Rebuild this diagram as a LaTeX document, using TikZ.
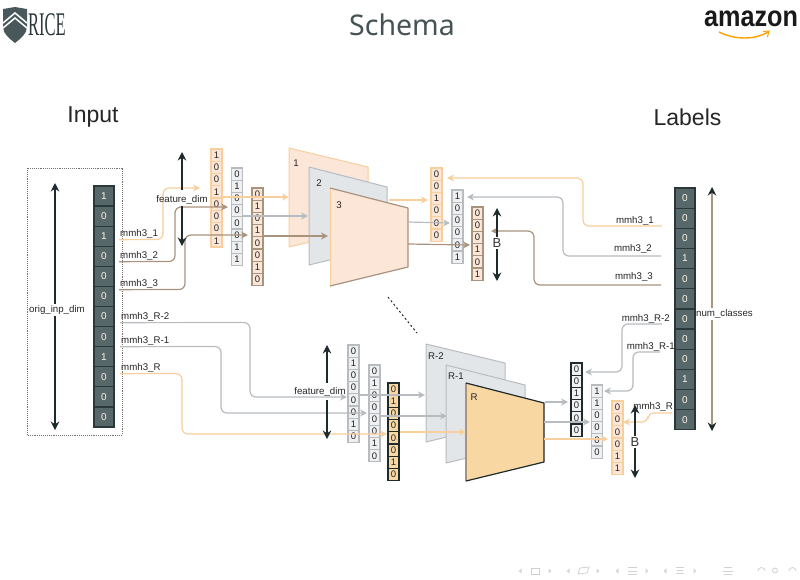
\documentclass[tikz,border=0pt]{standalone}
\usepackage{fontspec}
\usepackage{graphicx}
\setmainfont{Liberation Sans}
\newfontfamily\titlefont{Noto Sans}
\newfontfamily\serifont{Liberation Serif}
\usetikzlibrary{arrows.meta}
\definecolor{orgL}{HTML}{F8CF9C}
\definecolor{orgF}{HTML}{FBE6D8}
\definecolor{orgS}{HTML}{F8D7A2}
\definecolor{gryL}{HTML}{B8BCC0}
\definecolor{gryF}{HTML}{E3E6E8}
\definecolor{tanL}{HTML}{A8937E}
\definecolor{slate}{HTML}{56686A}
\definecolor{slateD}{HTML}{2A3839}
\definecolor{ink}{HTML}{1E2A2C}
\tikzset{
  x=1pt,y=-1pt,
  bitcell/.style={draw,line width=1.3pt,inner sep=0pt,font=\fontsize{9.5}{10}\selectfont,text=black!85},
  darkbit/.style={bitcell,fill=slate,draw=slateD,line width=1.3pt,text=orange!10,font=\fontsize{10}{11}\selectfont},
  orgbit/.style={bitcell,fill=orgF,draw=orgL},
  grybit/.style={bitcell,fill=gryF!60,draw=gryL},
  tanbit/.style={bitcell,fill=orgF,draw=tanL},
  inkbit/.style={bitcell,fill=orgS,draw=ink},
  palebit/.style={bitcell,fill=gryF!50,draw=ink},
  lab/.style={inner sep=1pt,font=\fontsize{9.7}{10}\selectfont,text=black!85},
  big/.style={inner sep=0pt,font=\fontsize{23}{24}\selectfont,text=black!85},
  planeO/.style={fill=orgF,draw=orgL,line width=1pt,line join=round},
  planeG/.style={fill=gryF,draw=gryL,line width=1pt,line join=round},
  conn/.style={line width=1.2pt,rounded corners=6pt,-{Stealth[open,length=7pt,width=7pt]}},
  connO/.style={conn,draw=orgL},
  connG/.style={conn,draw=gryL},
  connT/.style={conn,draw=tanL},
  dimarrow/.style={line width=1.1pt,draw=ink,-{Stealth[length=8.5pt,width=8.5pt]}},
  nav/.style={fill=black!16,draw=none},
  navl/.style={draw=black!18,line width=.8pt,fill=none},
}
\newcommand{\bitcol}[7]{%
  \foreach \d [count=\i] in {#7}{%
    \node[#6,minimum width=#4pt,minimum height=#5pt] (#1-\i) at (#2+#4/2,{#3+(\i-.5)*#5}) {\d};
  }%
}
\begin{document}
\begin{tikzpicture}
\useasboundingbox (0,0) rectangle (800,579);
\fill[white] (0,0) rectangle (800,579);

% header
\fill[slate!85!black] (3,9) -- (15,7) -- (27,9) -- (27,27) .. controls (27,34) and (20,39) .. (15,43) .. controls (10,39) and (3,34) .. (3,27) -- cycle;
\draw[white,line width=1.5pt] (3,28) -- (15,18) -- (27,28);
\draw[white,line width=1.5pt] (3,23) -- (15,13) -- (27,23);
\node[inner sep=0pt,anchor=west,text=slateD] (rice) at (28,25) {\serifont\fontsize{33}{34}\selectfont\scalebox{.5}[1]{RICE}};
\node[inner sep=0pt,text=slate!80!black] (schema) at (402,25) {\titlefont\fontsize{28.5}{30}\selectfont Schema};
\node[inner sep=0pt,text=black!90] (amazon) at (751,19) {\fontsize{29}{30}\selectfont\bfseries\scalebox{.87}[1]{amazon}};
\draw[orange!75!yellow,line width=1.4pt] (719,32) .. controls (735,40) and (755,40) .. (768,32);
\draw[orange!75!yellow,line width=1pt] (763,31.5) -- (769,31) -- (767.5,37);

% headings
\node[big] (inputT) at (93,117) {Input};
\node[big] (labelsT) at (687.5,117) {Labels};

% dotted box
\draw[black!55,densely dotted,line width=.9pt] (27,168) rectangle (122,435);

% big columns
\bitcol{in}{94}{186}{20}{20.08}{darkbit}{1,0,1,0,0,0,0,0,1,0,0,0}
\bitcol{out}{675}{188}{20}{20.15}{darkbit}{0,0,0,1,0,0,0,0,0,1,0,0}

% planes, top
\draw[planeO] (289,148) -- (368,167) -- (368,228) -- (289,247) -- cycle;
\draw[planeG] (309,167) -- (387,187) -- (387,246) -- (309,265) -- cycle;
\fill[orgF] (330,188) -- (408,208) -- (408,267) -- (330,286) -- cycle;
\draw[orgL,line width=1pt] (330,188) -- (330,286);
\draw[tanL,line width=1.2pt,line join=round] (330,286) -- (408,267) -- (408,208) -- (330,188);
\node[lab] (p1) at (296,163) {1};
\node[lab] (p2) at (319,183) {2};
\node[lab] (p3) at (339,205) {3};

% planes, bottom
\draw[planeG] (426,344) -- (505,363) -- (505,423) -- (426,442) -- cycle;
\draw[planeG] (446,365) -- (525,385) -- (525,444) -- (446,463) -- cycle;
\fill[orgS] (466,383) -- (544,403) -- (544,462) -- (466,481) -- cycle;
\draw[tanL,line width=1.2pt] (466,383) -- (466,481);
\draw[ink,line width=1.2pt,line join=round] (466,481) -- (544,462) -- (544,403) -- (466,383);
\node[lab] (q1) at (436,356) {R-2};
\node[lab] (q2) at (456,376) {R-1};
\node[lab] (q3) at (474,397) {R};

% bit columns
\bitcol{a}{211}{149}{11}{12.25}{orgbit}{1,0,0,1,0,0,0,1}
\bitcol{b}{231.5}{168}{11}{12.2}{grybit}{0,1,0,0,0,0,1,1}
\bitcol{c}{252}{188}{11}{12.2}{tanbit}{0,1,0,1,0,0,1,0}
\bitcol{d}{431}{168}{11}{12.2}{orgbit}{0,0,1,0,0,0}
\bitcol{e}{452}{190}{11}{12.2}{grybit}{1,0,0,0,0,1}
\bitcol{f}{472}{207}{11}{12.2}{tanbit}{0,0,0,1,0,1}
\bitcol{g}{348}{345}{11}{12.2}{grybit}{0,1,0,0,0,0,1,0}
\bitcol{h}{369}{365}{11}{12.1}{grybit}{0,1,0,0,0,0,1,0}
\bitcol{k}{388}{383}{11}{12.2}{inkbit}{0,1,0,0,0,0,1,0}
\bitcol{m}{571}{363}{11}{12.2}{palebit}{0,0,1,0,0,0}
\bitcol{n}{591.5}{385}{11}{12.2}{grybit}{1,1,0,0,0,0}
\bitcol{r}{612}{401}{11}{12.3}{orgbit}{0,0,0,0,1,1}

% labels
\node[lab,anchor=west] (l1) at (119,234) {mmh3\_1};
\node[lab,anchor=west] (l2) at (119,256) {mmh3\_2};
\node[lab,anchor=west] (l3) at (119,284) {mmh3\_3};
\node[lab,anchor=west] (l4) at (120,317) {mmh3\_R-2};
\node[lab,anchor=west] (l5) at (120,341) {mmh3\_R-1};
\node[lab,anchor=west] (l6) at (120,368) {mmh3\_R};
\node[lab,anchor=east] (r1) at (655,221) {mmh3\_1};
\node[lab,anchor=east] (r2) at (653,249) {mmh3\_2};
\node[lab,anchor=east] (r3) at (654,277) {mmh3\_3};
\node[lab,anchor=east] (r4) at (671,319) {mmh3\_R-2};
\node[lab,anchor=east] (r5) at (676,347) {mmh3\_R-1};
\node[lab,anchor=east] (r6) at (674,407) {mmh3\_R};

% named connector ends
\coordinate (t1) at (200,188);
\coordinate (t2) at (228,207);
\coordinate (t3) at (248,235);
\coordinate (t4) at (347,397);
\coordinate (t5) at (367,413);
\coordinate (t6) at (387,434);
\coordinate (pin1) at (289,197);
\coordinate (pin2) at (308,216);
\coordinate (pin3) at (328,236);
\coordinate (qin1) at (425,395);
\coordinate (qin2) at (447,416);
\coordinate (qin3) at (466,432);
\coordinate (o1) at (389,200);
\coordinate (o2) at (408,222);
\coordinate (o3) at (408,244);
\coordinate (u1) at (545,402);
\coordinate (u2) at (544,422);
\coordinate (u3) at (544,439);
\coordinate (v1) at (428,200);
\coordinate (v2) at (450,223);
\coordinate (v3) at (470,245);
\coordinate (w1) at (568,402);
\coordinate (w2) at (590,422);
\coordinate (w3) at (608,439);
\coordinate (x1) at (447,178);
\coordinate (x2) at (467,197);
\coordinate (x3) at (491,231);
\coordinate (y1) at (585,372);
\coordinate (y2) at (604,391);
\coordinate (y3) at (623,422);
\coordinate (rs1) at (662,226);
\coordinate (rs2) at (661,256);
\coordinate (rs3) at (661,285);
\coordinate (rs4) at (662,324);
\coordinate (rs5) at (660,352);
\coordinate (rs6) at (672,413);

% connectors: input to first hash columns
\draw[connO] (l1.south west) -- (163,239.5) -- (163,188) -- (t1);
\draw[connT] (l2.south west) -- (175,261.5) -- (175,207) -- (t2);
\draw[connT] (l3.south west) -- (185,289.5) -- (185,235) -- (t3);
\draw[connG] (l4.south west) -- (250,322.5) -- (250,397) -- (t4);
\draw[connG] (l5.south west) -- (221,346.5) -- (221,413) -- (t5);
\draw[connO] (l6.south west) -- (182,373.5) -- (182,434) -- (t6);
% connectors: hash columns to planes
\draw[connO] (a-4.east |- pin1) -- (pin1);
\draw[connG] (b-4.east |- pin2) -- (pin2);
\draw[connT] (c-4.east |- pin3) -- (pin3);
\draw[connG] (g-5.east |- qin1) -- (qin1);
\draw[connG] (h-5.east |- qin2) -- (qin2);
\draw[connO] (k-5.east |- qin3) -- (qin3);
% connectors: planes to output columns
\draw[connO] (o1) -- (v1);
\draw[connG] (o2) -- (v2);
\draw[connT] (o3) -- (v3);
\draw[connG] (u1) -- (w1);
\draw[connG] (u2) -- (w2);
\draw[connO] (u3) -- (w3);
% connectors: labels to output columns
\draw[connO] (rs1) -- (583,226) -- (583,178) -- (x1);
\draw[connG] (rs2) -- (563,256) -- (563,197) -- (x2);
\draw[connT] (rs3) -- (534,285) -- (534,231) -- (x3);
\draw[connG] (rs4) -- (622,324) -- (622,372) -- (y1);
\draw[connG] (rs5) -- (633,352) -- (633,391) -- (y2);
\draw[connO] (rs6) -- (648,413) -- (648,422) -- (y3);

% dimension labels and arrows
\node[lab] (fd1) at (182,200) {feature\_dim};
\node[lab] (fd2) at (320,392) {feature\_dim};
\node[lab] (oid) at (57,310) {orig\_inp\_dim};
\node[lab] (nc) at (724.5,314) {num\_classes};
\node[inner sep=1pt,font=\fontsize{13}{14}\selectfont,text=black!80] (b1) at (497,243) {B};
\node[inner sep=1pt,font=\fontsize{13}{14}\selectfont,text=black!80] (b2) at (635,442) {B};
\coordinate (fd1t) at (182,152);
\coordinate (fd1b) at (182,246);
\coordinate (fd2t) at (327,345);
\coordinate (fd2b) at (327,439);
\coordinate (oidt) at (55,183);
\coordinate (oidb) at (55,430);
\coordinate (nct) at (712,187);
\coordinate (ncb) at (712,431);
\coordinate (b1t) at (497,208);
\coordinate (b1b) at (497,281);
\coordinate (b2t) at (635,405);
\coordinate (b2b) at (635,478);
\draw[dimarrow] (182,190) -- (fd1t);
\draw[dimarrow] (182,206) -- (fd1b);
\draw[dimarrow] (327,383) -- (fd2t);
\draw[dimarrow] (327,400) -- (fd2b);
\draw[dimarrow] (oid.north -| oidt) -- (oidt);
\draw[dimarrow] (oid.south -| oidb) -- (oidb);
\draw[line width=1.1pt,draw=tanL,-{Stealth[length=8.5pt,width=8.5pt,color=ink]}] (nc.north -| nct) -- (nct);
\draw[line width=1.1pt,draw=tanL,-{Stealth[length=8.5pt,width=8.5pt,color=ink]}] (nc.south -| ncb) -- (ncb);
\draw[dimarrow] (b1.north) -- (b1t);
\draw[dimarrow] (b1.south) -- (b1b);
\draw[dimarrow] (b2.north) -- (b2t);
\draw[dimarrow] (b2.south) -- (b2b);

% ellipsis between the two groups
\draw[ink,line width=1pt,dash pattern=on 2pt off 2.5pt] (388,297) -- (417,333);

% navigation symbols
\foreach \px in {520,568,617,665}{\fill[nav] (\px+1.5,568.5) -- (\px-1.5,571) -- (\px+1.5,573.5) -- cycle;}
\foreach \px in {550,598,647,695}{\fill[nav] (\px-1.5,568.5) -- (\px+1.5,571) -- (\px-1.5,573.5) -- cycle;}
\draw[navl] (531,568) rectangle (539,574);
\draw[navl] (578,574) -- (580,568) -- (589,567) -- (587,573) -- cycle;
\draw[navl] (628,567.5) -- (637,567.5) (628,571) -- (637,571) (628,574.5) -- (637,574.5);
\draw[navl] (676,567) -- (684,567) (677,570) -- (683,570) (676,573) -- (684,573);
\draw[navl] (724,567.5) -- (732,567.5) (723,571) -- (733,571) (724,574.5) -- (732,574.5);
\draw[navl] (758,571) arc[start angle=180,end angle=360,radius=3.5];
\draw[navl] (775,570.5) circle[radius=2.5];
\draw[navl] (789,571) arc[start angle=180,end angle=360,radius=3.5];
\end{tikzpicture}
\end{document}
